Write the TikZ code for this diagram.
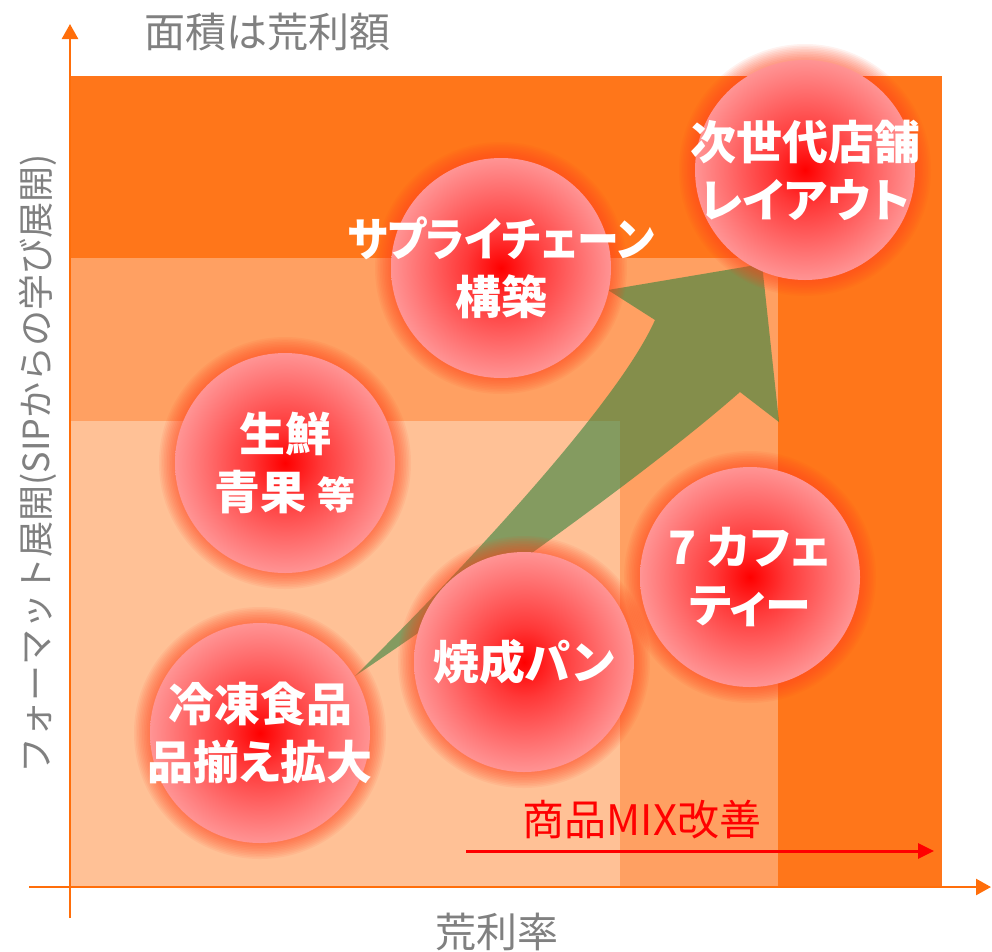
\documentclass[tikz,border=0pt]{standalone}
\usepackage{fontspec}
\newfontfamily\jpr{Noto Sans CJK JP}
\newfontfamily\jpb[RawFeature=+palt]{Noto Sans CJK JP}
\usetikzlibrary{arrows.meta}
\definecolor{darkor}{RGB}{255,118,26}
\definecolor{medor}{RGB}{255,160,98}
\definecolor{lightor}{RGB}{255,193,150}
\definecolor{axisc}{RGB}{255,110,10}
\definecolor{greytxt}{RGB}{128,128,128}
\definecolor{arrgreen}{RGB}{50,130,60}
\definecolor{glowc}{RGB}{255,65,25}
\pgfdeclareradialshading{bubble}{\pgfpoint{0bp}{0bp}}{rgb(0bp)=(1,0,0); rgb(8bp)=(1,0.22,0.22); rgb(25bp)=(1,0.58,0.58); rgb(50bp)=(1,0.58,0.58)}
\newcommand\glowat[1]{\foreach \k in {1,...,10}{\fill[glowc,fill opacity=0.07] #1 circle[radius={110pt+\k*1.6pt}];}}
\begin{document}
\begin{tikzpicture}[x=1pt,y=-1pt,
  bubblenode/.style={circle, minimum size=220pt, inner sep=0pt, shading=bubble},
  btext/.style={text=white, align=center, inner sep=0pt, font=\jpb\bfseries\fontsize{46pt}{58pt}\selectfont},
  axislabel/.style={text=greytxt, inner sep=0pt, font=\jpr\fontsize{41pt}{41pt}\selectfont},
  axisline/.style={draw=axisc, line width=2.5pt, -{Triangle[length=15pt,width=16pt]}}]
\useasboundingbox (0,0) rectangle (992,951);
% background bands
\fill[darkor] (70,76) rectangle (942,887);
\fill[medor] (70,258) rectangle (778,887);
\fill[lightor] (70,421) rectangle (620,887);
% axes
\coordinate (ybot) at (70,918);
\coordinate (ytip) at (70,24);
\coordinate (xleft) at (29,887);
\coordinate (xtip) at (991,887);
\draw[axisline] (ybot) -- (ytip);
\draw[axisline] (xleft) -- (xtip);
\node[axislabel] (title) at (267,32) {面積は荒利額};
\node[axislabel] (xlab) at (497,932) {荒利率};
\node[axislabel, rotate=90, font=\jpr\fontsize{36pt}{36pt}\selectfont] (ylab) at (38,464) {フォーマット展開(SIPからの学び展開)};
% green growth arrow
\fill[arrgreen, fill opacity=0.6] (355,676) .. controls (450,612) and (640,480) .. (740,392)
  -- (779,422) -- (762,264) -- (608,290) -- (655,320)
  .. controls (615,410) and (440,592) .. (355,676) -- cycle;
% bubbles
\glowat{(805,170)}
\node[bubblenode] (b1) at (805,170) {};
\glowat{(501,268)}
\node[bubblenode] (b2) at (501,268) {};
\glowat{(285,463)}
\node[bubblenode] (b3) at (285,463) {};
\glowat{(524,662)}
\node[bubblenode] (b4) at (524,662) {};
\glowat{(260,733)}
\node[bubblenode] (b5) at (260,733) {};
\glowat{(750,577)}
\node[bubblenode] (b6) at (750,577) {};
\node[btext] (t1) at (b1) {次世代店舗\\レイアウト};
\node[btext] (t2) at (b2) {\scalebox{0.91}[1]{サプライチェーン}\\構築};
\node[btext] (t3) at (b3) {生鮮\\青果 {\fontsize{38pt}{58pt}\selectfont 等}};
\node[btext] (t4) at (b4) {焼成パン};
\node[btext] (t5) at (b5) {冷凍食品\\品揃え拡大};
\node[btext] (t6) at (b6) {7 カフェ\\ティー};
% product mix arrow
\coordinate (m1) at (466,851);
\coordinate (m2) at (934,851);
\draw[red, line width=3pt, -{Triangle[length=16pt,width=15pt]}] (m1) -- (m2);
\node[text=red, inner sep=0pt, font=\jpr\fontsize{42pt}{42pt}\selectfont] (mix) at (642,820) {商品MIX改善};
\end{tikzpicture}
\end{document}
